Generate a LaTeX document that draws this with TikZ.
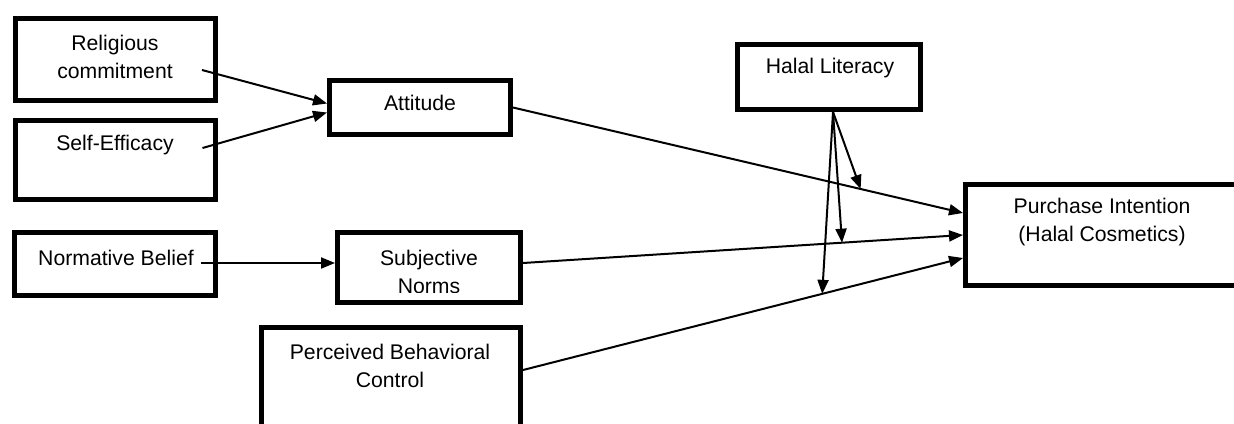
\documentclass[tikz,border=0pt]{standalone}
\usepackage{fontspec}
\setmainfont{Liberation Sans}
\usetikzlibrary{arrows.meta, positioning, calc}

\tikzset{
  box/.style={draw, line width=2.5pt, inner sep=0pt},
  txt/.style={align=center, inner sep=0pt, font=\fontsize{10.6}{14}\selectfont},
  arr/.style={line width=1pt, -{Triangle[length=7pt, width=5.5pt]}}
}

\begin{document}
\begin{tikzpicture}[x=0.5pt, y=-0.5pt]
  \useasboundingbox (0,0) rectangle (1234,423);
  \clip (0,0) rectangle (1234,423);

  \node[txt] (rct)  at (115,57)   {Religious\\commitment};
  \node[txt] (set)  at (115,145)  {Self-Efficacy};
  \node[txt] (attt) at (420,103)  {Attitude};
  \node[txt] (nbt)  at (116,258)  {Normative Belief};
  \begin{scope}
    \clip (335,230) rectangle (523,292);
    \node[txt] (snt) at (429,271.5) {Subjective\\Norms};
  \end{scope}
  \node[txt] (pbct) at (390,366)  {Perceived Behavioral\\Control};
  \node[txt] (hlt)  at (830,68)   {Halal Literacy};
  \node[txt] (pit)  at (1102,222) {Purchase Intention\\(Halal Cosmetics)};

  \node[box, minimum width=100pt,   minimum height=41pt]   (rc)  at (115.5,59.5)  {};
  \node[box, minimum width=100pt,   minimum height=39.5pt] (se)  at (115.5,160)   {};
  \node[box, minimum width=90.5pt,  minimum height=27pt]   (att) at (420,107.5)   {};
  \node[box, minimum width=100.5pt, minimum height=31.5pt] (nb)  at (115,264)     {};
  \node[box, minimum width=91.5pt,  minimum height=35pt]   (sn)  at (429,267.5)   {};
  \node[box, minimum width=129.5pt, minimum height=55pt]   (pbc) at (391,382.5)   {};
  \node[box, minimum width=91.5pt,  minimum height=32.5pt] (hl)  at (829,77)      {};
  \node[box, minimum width=141pt,   minimum height=50.5pt] (pi)  at (1106.5,235)  {};

  \coordinate (rcout)  at ($(rc.east)+(-16,10.5)$);
  \coordinate (seout)  at ($(se.east)+(-15.5,-12)$);
  \coordinate (nbout)  at ($(nb.east)+(-17.5,-1)$);
  \coordinate (snout)  at ($(sn.east)+(0,-4.5)$);
  \coordinate (pbcout) at ($(pbc.east)+(0,-12.5)$);
  \coordinate (hlout)  at ($(hl.south)+(4,0)$);
  \coordinate (pia)    at ($(pi.west)+(0,-22)$);
  \coordinate (pib)    at (pi.west);
  \coordinate (pic)    at ($(pi.west)+(0,23)$);

  \draw[arr] (rcout) -- ($(att.west)+(0,-4)$);
  \draw[arr] (seout) -- ($(att.west)+(0,5)$);
  \draw[arr] (nbout) -- (sn.west |- nbout);
  \draw[arr] (att.east) -- (pia);
  \draw[arr] (snout) -- (pib);
  \draw[arr] (pbcout) -- (pic);

  \coordinate (ma) at ($(att.east)!0.7725!(pia)$);
  \coordinate (mb) at ($(snout)!0.725!(pib)$);
  \coordinate (mc) at ($(pbcout)!0.68!(pic)$);
  \draw[arr] (hlout) -- (ma);
  \draw[arr] (hlout) -- (mb);
  \draw[arr] (hlout) -- (mc);
\end{tikzpicture}
\end{document}
